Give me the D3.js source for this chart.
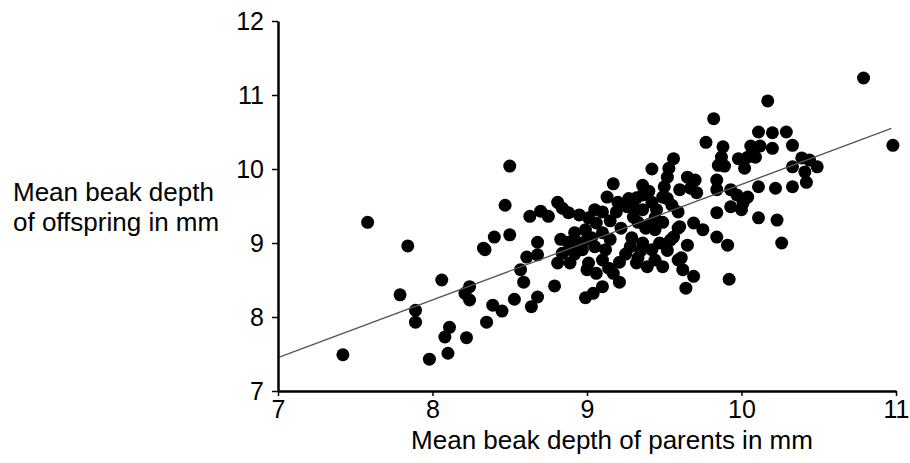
<!DOCTYPE html>
<html>
<head>
<meta charset="utf-8">
<script src="https://cdn.jsdelivr.net/npm/d3@7"></script>
<style>
  body { margin: 0; background: #fff; }
  svg { display: block; }
  text { font-family: "Liberation Sans", Arial, sans-serif; fill: #000; }
</style>
</head>
<body>
<svg id="plot" width="910" height="463"></svg>
<script>
// x = mean beak depth of parents (mm), y = mean beak depth of offspring (mm)
const parentDepth = [
  7.42, 7.58, 7.84, 7.79, 7.89, 7.89, 7.98, 8.06, 8.08, 8.10, 8.11,
  8.22, 8.35, 8.39, 8.45, 8.53, 8.64, 8.68, 8.79,
  8.24, 8.21, 8.24, 8.57, 8.59, 8.34, 8.61, 8.68, 8.89, 8.99, 9.04,
  8.50, 8.47, 8.63, 8.70, 8.75, 8.81, 8.84, 8.40, 8.50, 8.33, 8.68, 8.83, 8.88,
  9.17, 9.36, 9.50, 8.88, 8.95, 9.01, 9.06,
  9.10, 9.19, 9.26, 9.32, 9.36, 9.42, 9.49, 9.55, 9.59,
  9.30, 9.36, 9.44, 9.49, 8.92, 8.99, 9.03, 9.10,
  8.84, 8.89, 8.81, 8.97, 9.05, 9.12, 9.10, 9.01, 9.00, 9.06, 9.14,
  9.21, 9.17, 9.21, 9.29, 9.36, 9.42, 9.33, 9.44, 9.32, 9.49, 9.39,
  9.38, 9.44, 9.33, 9.56, 9.59, 9.10, 9.59,
  9.05, 9.15, 9.22, 9.27, 9.40, 9.45, 9.28, 9.35, 9.15, 9.25,
  9.47, 9.52, 9.20, 9.00, 8.95, 9.13, 9.40, 9.30, 8.92, 9.52,
  9.82, 9.77, 9.88, 9.87, 9.85, 9.89, 9.56, 9.42, 9.53, 9.52, 9.65, 9.70, 9.60, 9.67, 9.84, 9.84, 9.93,
  9.84, 9.91, 9.92, 9.69, 9.64, 9.61, 9.62, 9.65, 9.54, 9.60, 9.69, 9.75, 9.84, 9.93, 10.01, 9.71,
  10.79, 10.17, 10.11, 10.20, 10.29, 10.06, 10.12, 10.20, 10.33, 9.98, 10.04, 10.09, 10.02, 10.98,
  10.39, 10.44, 10.33, 10.49, 10.41, 10.42, 10.11, 10.22, 10.33, 9.97, 10.04, 10.00, 10.11, 10.23, 10.26
];
const offspringDepth = [
  7.49, 9.28, 8.96, 8.30, 8.09, 7.93, 7.43, 8.50, 7.73, 7.51, 7.86,
  7.72, 7.93, 8.16, 8.08, 8.24, 8.14, 8.27, 8.42,
  8.41, 8.32, 8.23, 8.64, 8.47, 8.91, 8.81, 8.84, 8.73, 8.26, 8.32,
  10.04, 9.51, 9.36, 9.43, 9.36, 9.55, 9.47, 9.08, 9.11, 8.93, 9.01, 9.05, 9.01,
  9.80, 9.78, 9.76, 9.41, 9.38, 9.34, 9.27,
  9.42, 9.42, 9.49, 9.61, 9.65, 9.55, 9.62, 9.51, 9.42,
  9.35, 9.45, 9.34, 9.28, 9.14, 9.18, 9.07, 9.14,
  8.86, 8.95, 8.73, 8.91, 8.95, 8.91, 8.77, 8.73, 8.64, 8.59, 8.66,
  8.74, 8.59, 8.47, 9.07, 9.00, 8.91, 8.80, 8.77, 8.73, 8.68, 8.68,
  9.20, 9.18, 9.28, 9.08, 9.20, 8.41, 8.77,
  9.45, 9.30, 9.20, 9.60, 9.70, 9.45, 8.95, 8.90, 9.05, 8.85,
  9.00, 9.60, 9.55, 9.05, 9.00, 9.62, 9.25, 9.48, 8.85, 8.90,
  10.68, 10.36, 10.30, 10.16, 10.05, 10.04, 10.14, 10.00, 10.01, 9.89, 9.89, 9.85, 9.72, 9.74, 9.85, 9.72, 9.72,
  9.08, 8.97, 8.51, 8.55, 8.39, 8.80, 8.64, 8.97, 9.04, 9.22, 9.27, 9.18, 9.41, 9.49, 9.54, 9.68,
  11.23, 10.92, 10.50, 10.49, 10.50, 10.31, 10.31, 10.28, 10.32, 10.14, 10.16, 10.16, 10.01, 10.32,
  10.15, 10.12, 10.03, 10.03, 9.96, 9.82, 9.76, 9.74, 9.76, 9.65, 9.62, 9.45, 9.34, 9.31, 9.00
];

// fitted regression line
const fitX = [7, 10.97];
const fitY = [7.45, 10.55];

const xTicks = [7, 8, 9, 10, 11];
const yTicks = [7, 8, 9, 10, 11, 12];

const svg = d3.select("#plot");

const x = d3.scaleLinear().domain([7, 11]).range([278, 896]);
const y = d3.scaleLinear().domain([7, 12]).range([391, 21]);

// dots
const points = parentDepth.map((d, i) => [d, offspringDepth[i]]);
svg.append("g")
    .selectAll("circle")
    .data(points)
    .join("circle")
    .attr("cx", d => x(d[0]))
    .attr("cy", d => y(d[1]))
    .attr("r", 6.5)
    .attr("fill", "#000");

// regression line
svg.append("line")
    .attr("x1", x(fitX[0]))
    .attr("y1", y(fitY[0]))
    .attr("x2", x(fitX[1]))
    .attr("y2", y(fitY[1]))
    .attr("stroke", "#555")
    .attr("stroke-width", 1.3);

// axes
const xAxis = svg.append("g")
    .attr("transform", `translate(0,${y(7)})`)
    .call(d3.axisBottom(x).tickValues(xTicks).tickSize(5).tickSizeOuter(0).tickFormat(d3.format("d")));

const yAxis = svg.append("g")
    .attr("transform", `translate(${x(7)},0)`)
    .call(d3.axisLeft(y).tickValues(yTicks).tickSize(6).tickSizeOuter(0).tickFormat(d3.format("d")));

[xAxis, yAxis].forEach(g => {
    g.select(".domain").attr("stroke", "#000").attr("stroke-width", 2.5);
    g.selectAll(".tick line").attr("stroke", "#000").attr("stroke-width", 1.5);
    g.selectAll(".tick text")
        .style("font-family", "'Liberation Sans', Arial, sans-serif")
        .style("font-size", "25px")
        .attr("fill", "#000");
});
xAxis.selectAll(".tick text").attr("y", 8).attr("dy", "0.75em");
yAxis.selectAll(".tick text").attr("x", -14).attr("dy", "0.35em");

// axis titles
svg.append("text")
    .attr("x", 612)
    .attr("y", 449)
    .attr("text-anchor", "middle")
    .style("font-size", "26px")
    .text("Mean beak depth of parents in mm");

const yTitle = svg.append("text")
    .attr("x", 13)
    .attr("y", 201)
    .style("font-size", "26px");
yTitle.append("tspan").attr("x", 13).text("Mean beak depth");
yTitle.append("tspan").attr("x", 13).attr("dy", 30).text("of offspring in mm");
</script>
</body>
</html>
